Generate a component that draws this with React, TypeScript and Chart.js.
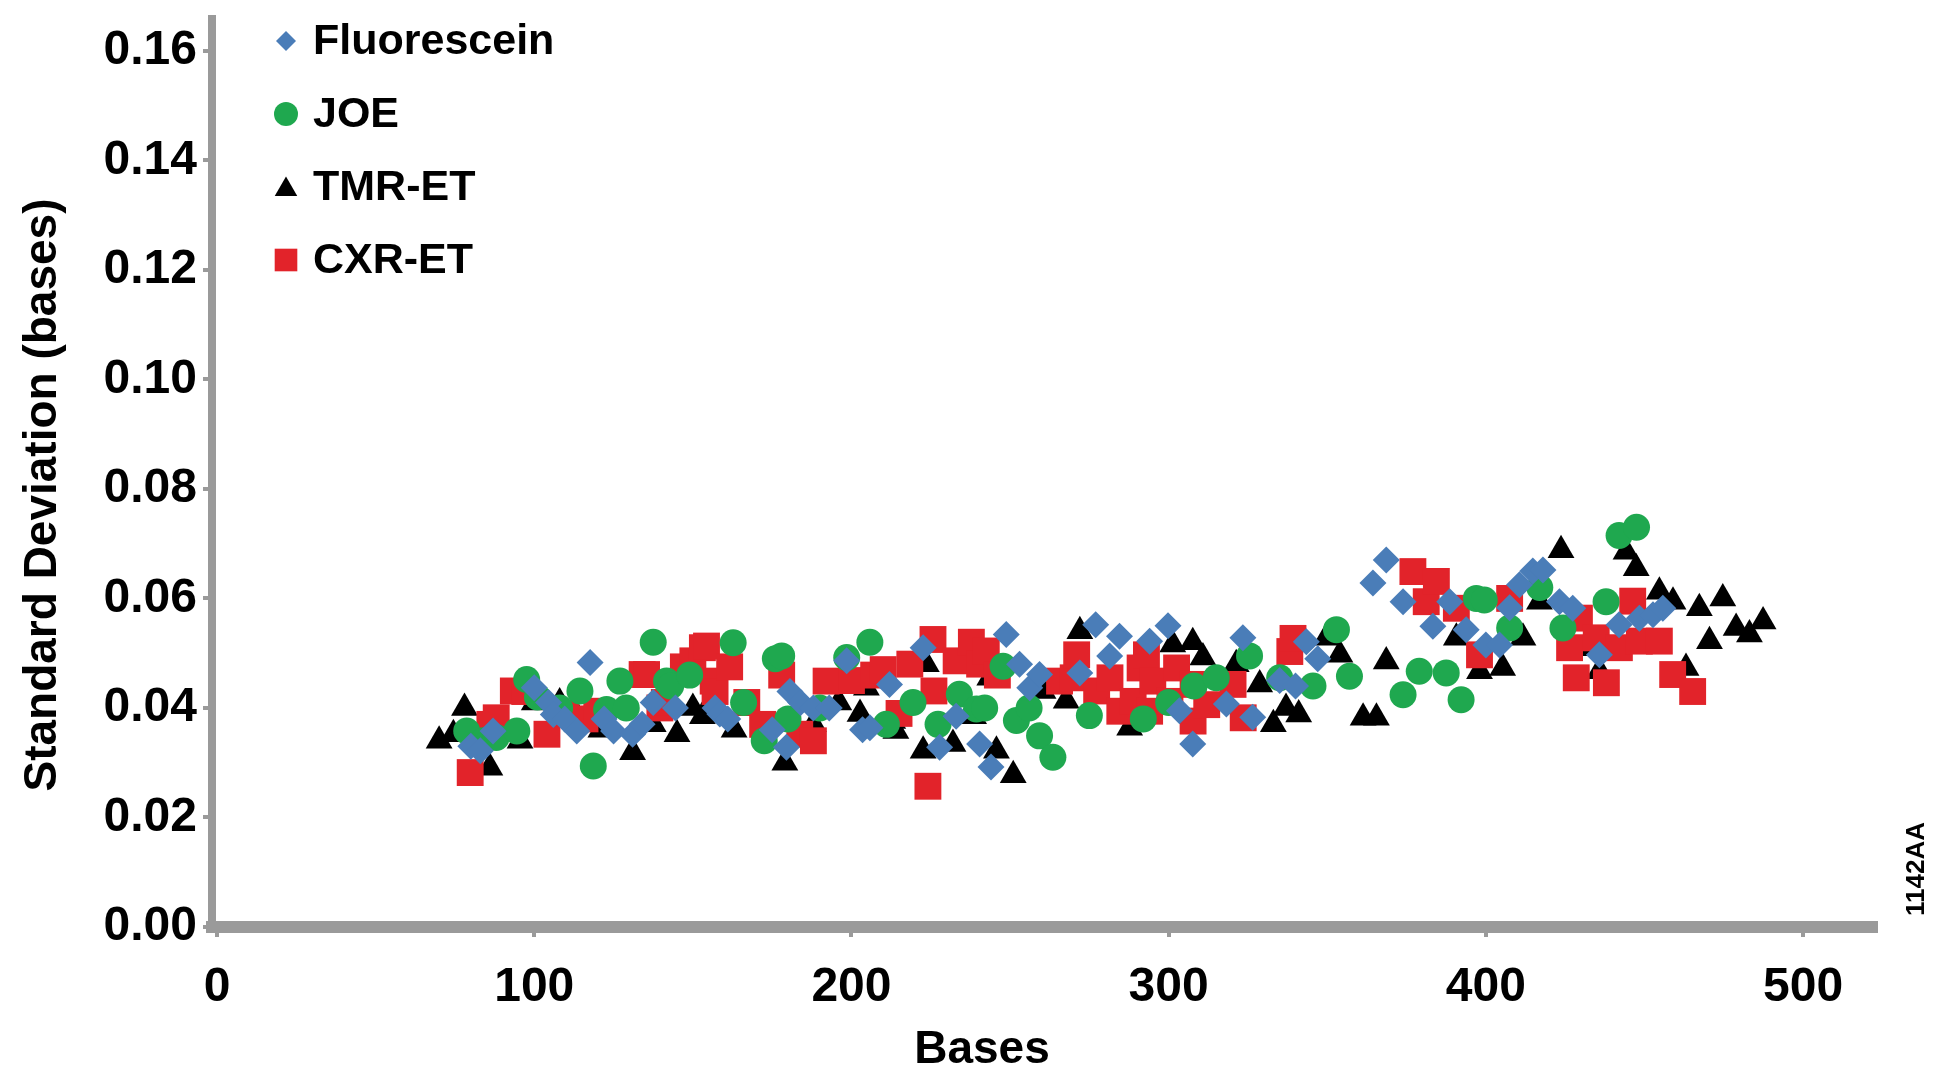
import React, { useEffect, useRef } from "react";
import { Chart, registerables } from "chart.js";

Chart.register(...registerables);

const seriesNames = ["Fluorescein", "JOE", "TMR-ET", "CXR-ET"];
const seriesColors = ["#4a7db8", "#1fa84f", "#000000", "#e2232a"];
const xTickValues = [0, 100, 200, 300, 400, 500];
const yTickValues = [0, 0.02, 0.04, 0.06, 0.08, 0.1, 0.12, 0.14, 0.16];

const fluorescein: [number, number][] = [
  [80, 0.033], [83, 0.0322], [87, 0.0358], [100, 0.0437], [104.5, 0.041], [106, 0.0388], [109.6, 0.038], [113.4, 0.0358],
  [117.6, 0.0483], [122, 0.038], [125, 0.0358], [131, 0.0352], [134, 0.037], [137.5, 0.041], [144.5, 0.04],
  [157, 0.04], [158.5, 0.0389], [161, 0.038], [175, 0.036], [179.5, 0.0328], [180.6, 0.043], [184, 0.041],
  [188, 0.04], [193, 0.04], [198.5, 0.0486], [203.5, 0.036], [205.8, 0.0364], [212, 0.0443], [222.6, 0.051],
  [227.8, 0.0328], [233, 0.0385], [240.4, 0.0334], [244, 0.0292], [248.8, 0.0534], [253, 0.048], [256.2, 0.0437],
  [259.3, 0.0461], [272, 0.0464], [277, 0.0552], [281.4, 0.0495], [284.5, 0.0531], [294, 0.0522], [299.8, 0.055],
  [303.4, 0.0395], [307.6, 0.0334], [318.2, 0.0407], [323.4, 0.0528], [326.5, 0.0383], [335, 0.045], [340, 0.044],
  [343.4, 0.0521], [347, 0.049], [364.4, 0.0628], [368.6, 0.067], [373.9, 0.0594], [383.3, 0.0549], [388.6, 0.0594],
  [393.8, 0.0543], [400, 0.0515], [404.3, 0.0515], [407.5, 0.0583], [410.6, 0.0625], [414.8, 0.065], [418, 0.0652],
  [423.2, 0.0594], [427.4, 0.0582], [435.8, 0.0497], [442, 0.0552], [448.4, 0.0564], [452.7, 0.057], [455.8, 0.0582],
];

const joe: [number, number][] = [
  [78.7, 0.0358], [84, 0.034], [88, 0.0346], [94.5, 0.0358], [97.6, 0.0452], [101, 0.042], [108, 0.04], [114.4, 0.0431],
  [118.6, 0.0294], [122.8, 0.0397], [127, 0.0449], [129, 0.04], [137.5, 0.052], [141.7, 0.0449], [143, 0.044],
  [149, 0.046], [162.7, 0.0519], [166, 0.041], [172.5, 0.034], [176, 0.049], [178, 0.0495], [180, 0.038],
  [190, 0.04], [198.5, 0.0492], [205.8, 0.052], [211, 0.037], [219.4, 0.041], [227.3, 0.037], [234, 0.0425],
  [239.4, 0.0398], [242, 0.04], [247.8, 0.0476], [252, 0.0377], [256, 0.04], [259.3, 0.0349], [263.5, 0.031],
  [275, 0.0386], [292, 0.038], [300, 0.041], [308, 0.044], [315, 0.0455], [325.5, 0.0495], [335, 0.0455],
  [345.5, 0.044], [352.9, 0.0543], [357, 0.0458], [373.9, 0.0424], [379, 0.0467], [387.5, 0.0464], [392.2, 0.0415],
  [397, 0.06], [399.5, 0.0597], [407.5, 0.0546], [417, 0.062], [424.3, 0.0546], [437.9, 0.0594], [442, 0.0715],
  [447.5, 0.073],
];

const tmrEt: [number, number][] = [
  [70, 0.034], [74.5, 0.0352], [78, 0.04], [86, 0.0291], [95.5, 0.034], [100, 0.041], [108, 0.041], [113, 0.039],
  [121, 0.036], [131, 0.0319], [137.5, 0.037], [145, 0.0352], [150, 0.04], [153, 0.0385], [163, 0.036],
  [167, 0.04], [179, 0.03], [188, 0.037], [196, 0.041], [202.7, 0.0389], [204.7, 0.0437], [213, 0.0376],
  [214, 0.0358], [222.6, 0.0322], [223.6, 0.048], [232, 0.0334], [238.5, 0.0385], [243.6, 0.0455], [245.7, 0.0322],
  [251, 0.0277], [260.4, 0.0431], [267.7, 0.0413], [272, 0.054], [287.7, 0.0364], [301.3, 0.0516], [307.6, 0.052],
  [310.8, 0.0492], [321.3, 0.048], [328.7, 0.0443], [333, 0.037], [337, 0.04], [341, 0.0388], [349.7, 0.0528],
  [354, 0.0497], [361.3, 0.0382], [365.5, 0.0382], [368.6, 0.0485], [390.7, 0.0528], [398, 0.0467], [405.3, 0.0473],
  [411.7, 0.0528], [416.9, 0.0594], [423.7, 0.0688], [432.7, 0.0509], [435.8, 0.0467], [444.2, 0.0685], [447.4, 0.0655],
  [454.7, 0.0612], [459, 0.0594], [463.1, 0.0473], [467.3, 0.0582], [470.5, 0.0522], [474.7, 0.06],
  [478.9, 0.0546], [483.1, 0.0534], [487.4, 0.0558],
];

const cxrEt: [number, number][] = [
  [79.8, 0.0282], [86, 0.037], [88, 0.0382], [93.4, 0.0431], [97, 0.043], [104, 0.0352], [110, 0.039], [116, 0.038],
  [119.7, 0.0394], [134, 0.0461], [135.4, 0.0461], [139.6, 0.04], [141, 0.041], [147, 0.0475], [150, 0.0486], [153, 0.051],
  [154.3, 0.0513], [156.4, 0.0449], [157, 0.043], [161.6, 0.0475], [167, 0.041], [172, 0.037], [178, 0.046],
  [183.7, 0.0352], [188, 0.034], [192, 0.0449], [200, 0.045], [207, 0.046], [210, 0.047], [215, 0.039],
  [218.4, 0.048], [224.1, 0.0257], [225.7, 0.0525], [226, 0.0431], [233, 0.0486], [237.8, 0.052], [240.4, 0.048],
  [242.5, 0.0504], [246, 0.046], [265.6, 0.0449], [269.9, 0.0455], [271, 0.0497], [277.3, 0.0431], [281.5, 0.0455],
  [284.6, 0.0394], [288.8, 0.0412], [291, 0.0473], [293, 0.0497], [294, 0.0394], [295, 0.0449], [300.4, 0.0412],
  [302.5, 0.0473], [307.7, 0.0443], [307.7, 0.0376], [312, 0.0406], [320.3, 0.0443], [323.5, 0.0382], [338.2, 0.0503],
  [339.2, 0.0527], [377, 0.0649], [381.2, 0.0594], [384.4, 0.0631], [390.7, 0.0582], [398, 0.0497], [407.5, 0.06],
  [426.4, 0.051], [428.5, 0.0455], [429.5, 0.0564], [434.8, 0.0528], [438, 0.0446], [442.1, 0.051], [446.3, 0.0595],
  [448.4, 0.0522], [454.7, 0.0522], [458.9, 0.0461], [465.2, 0.043],
];

const seriesData = [fluorescein, joe, tmrEt, cxrEt];
const seriesStyles = ["rectRot", "circle", "triangle", "rect"];
const seriesRadii = [13.5, 13.5, 15.5, 19];
const legendRadii = [10, 12, 13, 16];

const FONT = '"Liberation Sans", Arial, Helvetica, sans-serif';
const AXIS_GRAY = "#9a9a9a";

function drawMarker(ctx: CanvasRenderingContext2D, style: string, x: number, y: number, r: number, color: string) {
  ctx.fillStyle = color;
  ctx.beginPath();
  if (style === "circle") {
    ctx.arc(x, y, r, 0, Math.PI * 2);
  } else if (style === "rectRot") {
    ctx.moveTo(x, y - r);
    ctx.lineTo(x + r, y);
    ctx.lineTo(x, y + r);
    ctx.lineTo(x - r, y);
    ctx.closePath();
  } else if (style === "triangle") {
    const a = -Math.PI / 2;
    for (let i = 0; i < 3; i++) {
      const ang = a + (i * 2 * Math.PI) / 3;
      const px = x + Math.cos(ang) * r;
      const py = y + Math.sin(ang) * r + r * 0.2;
      if (i === 0) ctx.moveTo(px, py);
      else ctx.lineTo(px, py);
    }
    ctx.closePath();
  } else {
    const s = Math.SQRT1_2 * r;
    ctx.rect(x - s, y - s, 2 * s, 2 * s);
  }
  ctx.fill();
}

const overlayPlugin = {
  id: "overlay",
  afterDraw(chart: any) {
    const ctx: CanvasRenderingContext2D = chart.ctx;
    ctx.save();
    // legend
    ctx.textAlign = "left";
    ctx.textBaseline = "middle";
    ctx.font = `bold 43px ${FONT}`;
    seriesNames.forEach((name, i) => {
      const y = 41 + i * 73;
      drawMarker(ctx, seriesStyles[i], 286, y, legendRadii[i], seriesColors[i]);
      ctx.fillStyle = "#000";
      ctx.fillText(name, 313, y + 1);
    });
    // axis titles
    ctx.fillStyle = "#000";
    ctx.textAlign = "center";
    ctx.font = `bold 46px ${FONT}`;
    ctx.fillText("Bases", 982, 1050);
    ctx.save();
    ctx.translate(43, 495);
    ctx.rotate(-Math.PI / 2);
    ctx.fillText("Standard Deviation (bases)", 0, 0);
    ctx.restore();
    // figure id
    ctx.save();
    ctx.translate(1917, 869);
    ctx.rotate(-Math.PI / 2);
    ctx.font = `bold 26px ${FONT}`;
    ctx.fillText("1142AA", 0, 0);
    ctx.restore();
    ctx.restore();
  },
};

export default function App() {
  const canvasRef = useRef<HTMLCanvasElement | null>(null);

  useEffect(() => {
    if (!canvasRef.current) return;
    const chart = new Chart(canvasRef.current, {
      type: "scatter",
      data: {
        datasets: seriesNames.map((name, i) => ({
          label: name,
          data: seriesData[i].map(([x, y]) => ({ x, y })),
          pointStyle: seriesStyles[i] as any,
          pointRadius: seriesRadii[i],
          pointHoverRadius: seriesRadii[i],
          backgroundColor: seriesColors[i],
          borderColor: seriesColors[i],
          borderWidth: 0,
          order: [0, 1, 3, 2][i],
        })),
      },
      options: {
        responsive: false,
        animation: false,
        layout: { padding: { top: 15, right: 57, left: 0, bottom: 0 } },
        plugins: {
          legend: { display: false },
          tooltip: { enabled: false },
        },
        scales: {
          x: {
            type: "linear",
            min: -1.6,
            max: 523,
            afterBuildTicks: (scale: any) => {
              scale.ticks = xTickValues.map((v) => ({ value: v }));
            },
            afterFit: (scale: any) => {
              scale.height = 151;
              scale.paddingLeft = 0;
              scale.paddingRight = 0;
            },
            ticks: {
              color: "#000",
              font: { family: FONT, size: 48, weight: "bold" },
              padding: 22,
              maxRotation: 0,
              callback: (v: any) => String(v),
            },
            grid: {
              drawOnChartArea: false,
              drawTicks: true,
              tickLength: 10,
              color: AXIS_GRAY,
              lineWidth: 4,
            },
            border: { display: true, color: AXIS_GRAY, width: 12 },
            title: { display: false },
          },
          y: {
            type: "linear",
            min: 0,
            max: 0.1658,
            afterBuildTicks: (scale: any) => {
              scale.ticks = yTickValues.map((v) => ({ value: v }));
            },
            afterFit: (scale: any) => {
              scale.width = 212;
              scale.paddingTop = 0;
              scale.paddingBottom = 0;
            },
            ticks: {
              color: "#000",
              font: { family: FONT, size: 48, weight: "bold" },
              padding: 6,
              callback: (v: any) => Number(v).toFixed(2),
            },
            grid: {
              drawOnChartArea: false,
              drawTicks: true,
              tickLength: 9,
              color: AXIS_GRAY,
              lineWidth: 4,
            },
            border: { display: true, color: AXIS_GRAY, width: 8 },
            title: { display: false },
          },
        },
      },
      plugins: [overlayPlugin],
    } as any);
    return () => chart.destroy();
  }, []);

  return (
    <div style={{ position: "fixed", left: 0, top: 0, width: 1933, height: 1078, background: "#fff" }}>
      <canvas ref={canvasRef} width={1933} height={1078} style={{ display: "block" }} />
    </div>
  );
}
